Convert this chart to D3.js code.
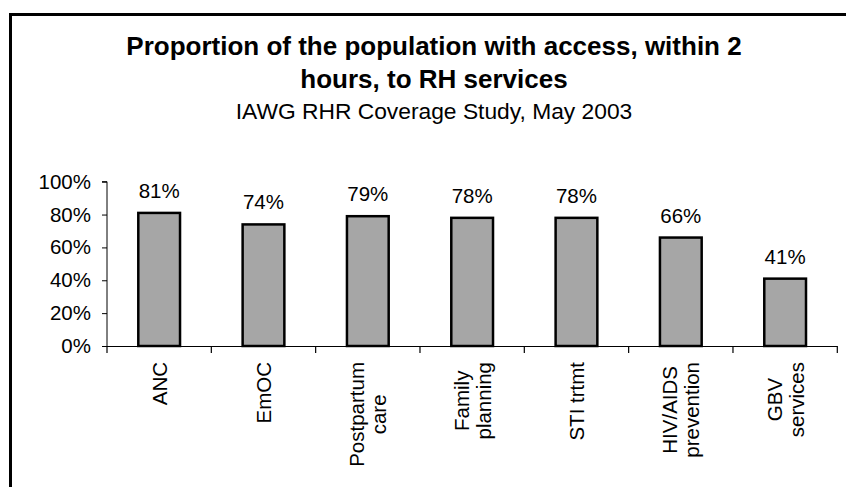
<!DOCTYPE html>
<html>
<head>
<meta charset="utf-8">
<script src="https://cdn.jsdelivr.net/npm/d3@7"></script>
<style>
  html, body { margin: 0; padding: 0; background: #fff; }
  svg { display: block; }
  text { font-family: "Liberation Sans", Arial, Helvetica, sans-serif; fill: #000; }
</style>
</head>
<body>
<svg id="chart" width="846" height="487"></svg>
<script>
const categories = ["ANC", "EmOC", "Postpartum care", "Family planning", "STI trtmt", "HIV/AIDS prevention", "GBV services"];
const categoryLines = [["ANC"], ["EmOC"], ["Postpartum", "care"], ["Family", "planning"], ["STI trtmt"], ["HIV/AIDS", "prevention"], ["GBV", "services"]];
const values = [0.81, 0.74, 0.79, 0.78, 0.78, 0.66, 0.41];
const yTicks = [0, 0.2, 0.4, 0.6, 0.8, 1.0];
const titleLines = ["Proportion of the population with access, within 2", "hours, to RH services"];
const subtitle = "IAWG RHR Coverage Study, May 2003";

const svg = d3.select("#chart");

// outer frame
svg.append("rect")
  .attr("x", 10.5).attr("y", 14.5)
  .attr("width", 900).attr("height", 600)
  .attr("fill", "none").attr("stroke", "#000").attr("stroke-width", 3);

const plotLeft = 107, plotRight = 837.3, plotTop = 181.7, plotBottom = 346;

const x = d3.scaleBand().domain(categories).range([plotLeft, plotRight]).paddingInner(0.6).paddingOuter(0.3);
const xb = d3.scaleBand().domain(categories).range([plotLeft, plotRight]);
const y = d3.scaleLinear().domain([0, 1]).range([plotBottom, plotTop]);

// titles
const tcx = 434;
svg.append("text").attr("x", tcx).attr("y", 55).attr("text-anchor", "middle")
  .attr("font-size", 26).attr("font-weight", "bold").text(titleLines[0]);
svg.append("text").attr("x", tcx).attr("y", 88).attr("text-anchor", "middle")
  .attr("font-size", 26).attr("font-weight", "bold").text(titleLines[1]);
svg.append("text").attr("x", tcx).attr("y", 119).attr("text-anchor", "middle")
  .attr("font-size", 22.8).text(subtitle);

// y axis
const yAxis = d3.axisLeft(y).tickValues(yTicks).tickFormat(d3.format(".0%")).tickSize(5).tickPadding(11);
const gy = svg.append("g").attr("transform", `translate(${plotLeft},0)`).call(yAxis);
gy.select(".domain").attr("stroke", "#000").attr("d", `M-5,${plotTop}H0V${plotBottom}`);
gy.selectAll(".tick line").attr("stroke", "#000");
gy.selectAll(".tick text").attr("font-size", 20.5).attr("font-family", "Liberation Sans, Arial, sans-serif").attr("fill", "#000");

// x axis line + boundary ticks
const boundaries = categories.map(c => xb(c)).concat([plotRight]);
svg.append("line").attr("x1", plotLeft).attr("x2", plotRight).attr("y1", plotBottom + 0.5).attr("y2", plotBottom + 0.5)
  .attr("stroke", "#000").attr("stroke-width", 1.2);
svg.selectAll(".xtick").data(boundaries).join("line").attr("class", "xtick")
  .attr("x1", d => d).attr("x2", d => d).attr("y1", plotBottom).attr("y2", plotBottom + 7)
  .attr("stroke", "#000").attr("stroke-width", 1.2);

// bars
svg.selectAll(".bar").data(values).join("rect").attr("class", "bar")
  .attr("x", (d, i) => x(categories[i]))
  .attr("y", d => y(d))
  .attr("width", x.bandwidth())
  .attr("height", d => plotBottom - y(d))
  .attr("fill", "#a6a6a6").attr("stroke", "#000").attr("stroke-width", 2.5);

// data labels
svg.selectAll(".dl").data(values).join("text").attr("class", "dl")
  .attr("x", (d, i) => x(categories[i]) + x.bandwidth() / 2)
  .attr("y", d => y(d) - 15)
  .attr("text-anchor", "middle").attr("font-size", 20.5)
  .text(d => Math.round(d * 100) + "%");

// category labels (rotated, block top-aligned, lines centered)
const labelTop = 362, lineH = 22;
categoryLines.forEach((lines, i) => {
  const cx = xb(categories[i]) + xb.bandwidth() / 2;
  const g = svg.append("g");
  const ts = lines.map((ln, j) => g.append("text").attr("font-size", 20.5)
    .attr("text-anchor", "middle").attr("dominant-baseline", "central").text(ln));
  const maxL = d3.max(ts, t => t.node().getComputedTextLength());
  ts.forEach((t, j) => {
    const dx = (j - (lines.length - 1) / 2) * lineH;
    t.attr("transform", `translate(${cx + dx},${labelTop + maxL / 2}) rotate(-90)`);
  });
});
</script>
</body>
</html>
